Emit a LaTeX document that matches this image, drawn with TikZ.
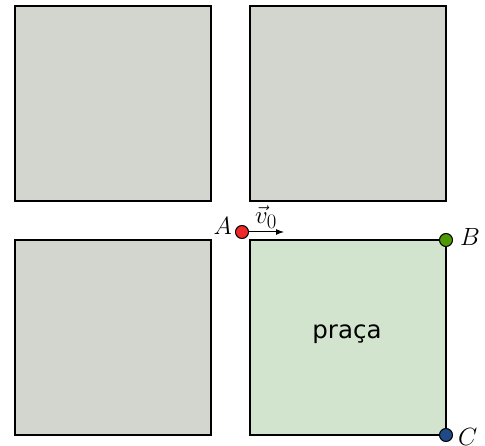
\documentclass[tikz,border=0pt]{standalone}
\usepackage{fontspec}
\usetikzlibrary{arrows.meta}
\newfontfamily\dejavu{DejaVu Sans}
\begin{document}
\begin{tikzpicture}[x=1pt,y=-1pt,
  block/.style={draw=black,line width=1.2pt,fill=gray1},
  dot/.style={circle,draw=black,line width=1pt,minimum size=13pt,inner sep=0pt},
  lbl/.style={font=\Huge,inner sep=0pt}]
\definecolor{gray1}{HTML}{D3D6CF}
\definecolor{green1}{HTML}{D2E4CD}
\definecolor{redA}{HTML}{EF2929}
\definecolor{greenB}{HTML}{4E9A06}
\definecolor{blueC}{HTML}{204A87}
\useasboundingbox (0,0) rectangle (485,446);
\draw[block] (15,6) rectangle (211,201);
\draw[block] (250,6) rectangle (446,201);
\draw[block] (15,240) rectangle (211,435);
\draw[block,fill=green1] (250,240) rectangle (446,435);
\node[font=\dejavu\fontsize{24.5}{24.5}\selectfont] (praca) at (347,334) {praça};
\node[dot,fill=redA] (A) at (242,232) {};
\coordinate (Aend) at (284,232);
\draw[-{Latex[length=8pt,width=6pt]},line width=1pt] (A) -- (Aend);
\node[lbl] at (266,217) {$\vec{v}_0$};
\node[lbl,anchor=east] at (232,226.5) {$A$};
\node[dot,fill=greenB] (B) at (446,240) {};
\node[lbl,anchor=west] at (460,237) {$B$};
\node[dot,fill=blueC] (C) at (446,435) {};
\node[lbl,anchor=west] at (458,436.5) {$C$};
\end{tikzpicture}
\end{document}
